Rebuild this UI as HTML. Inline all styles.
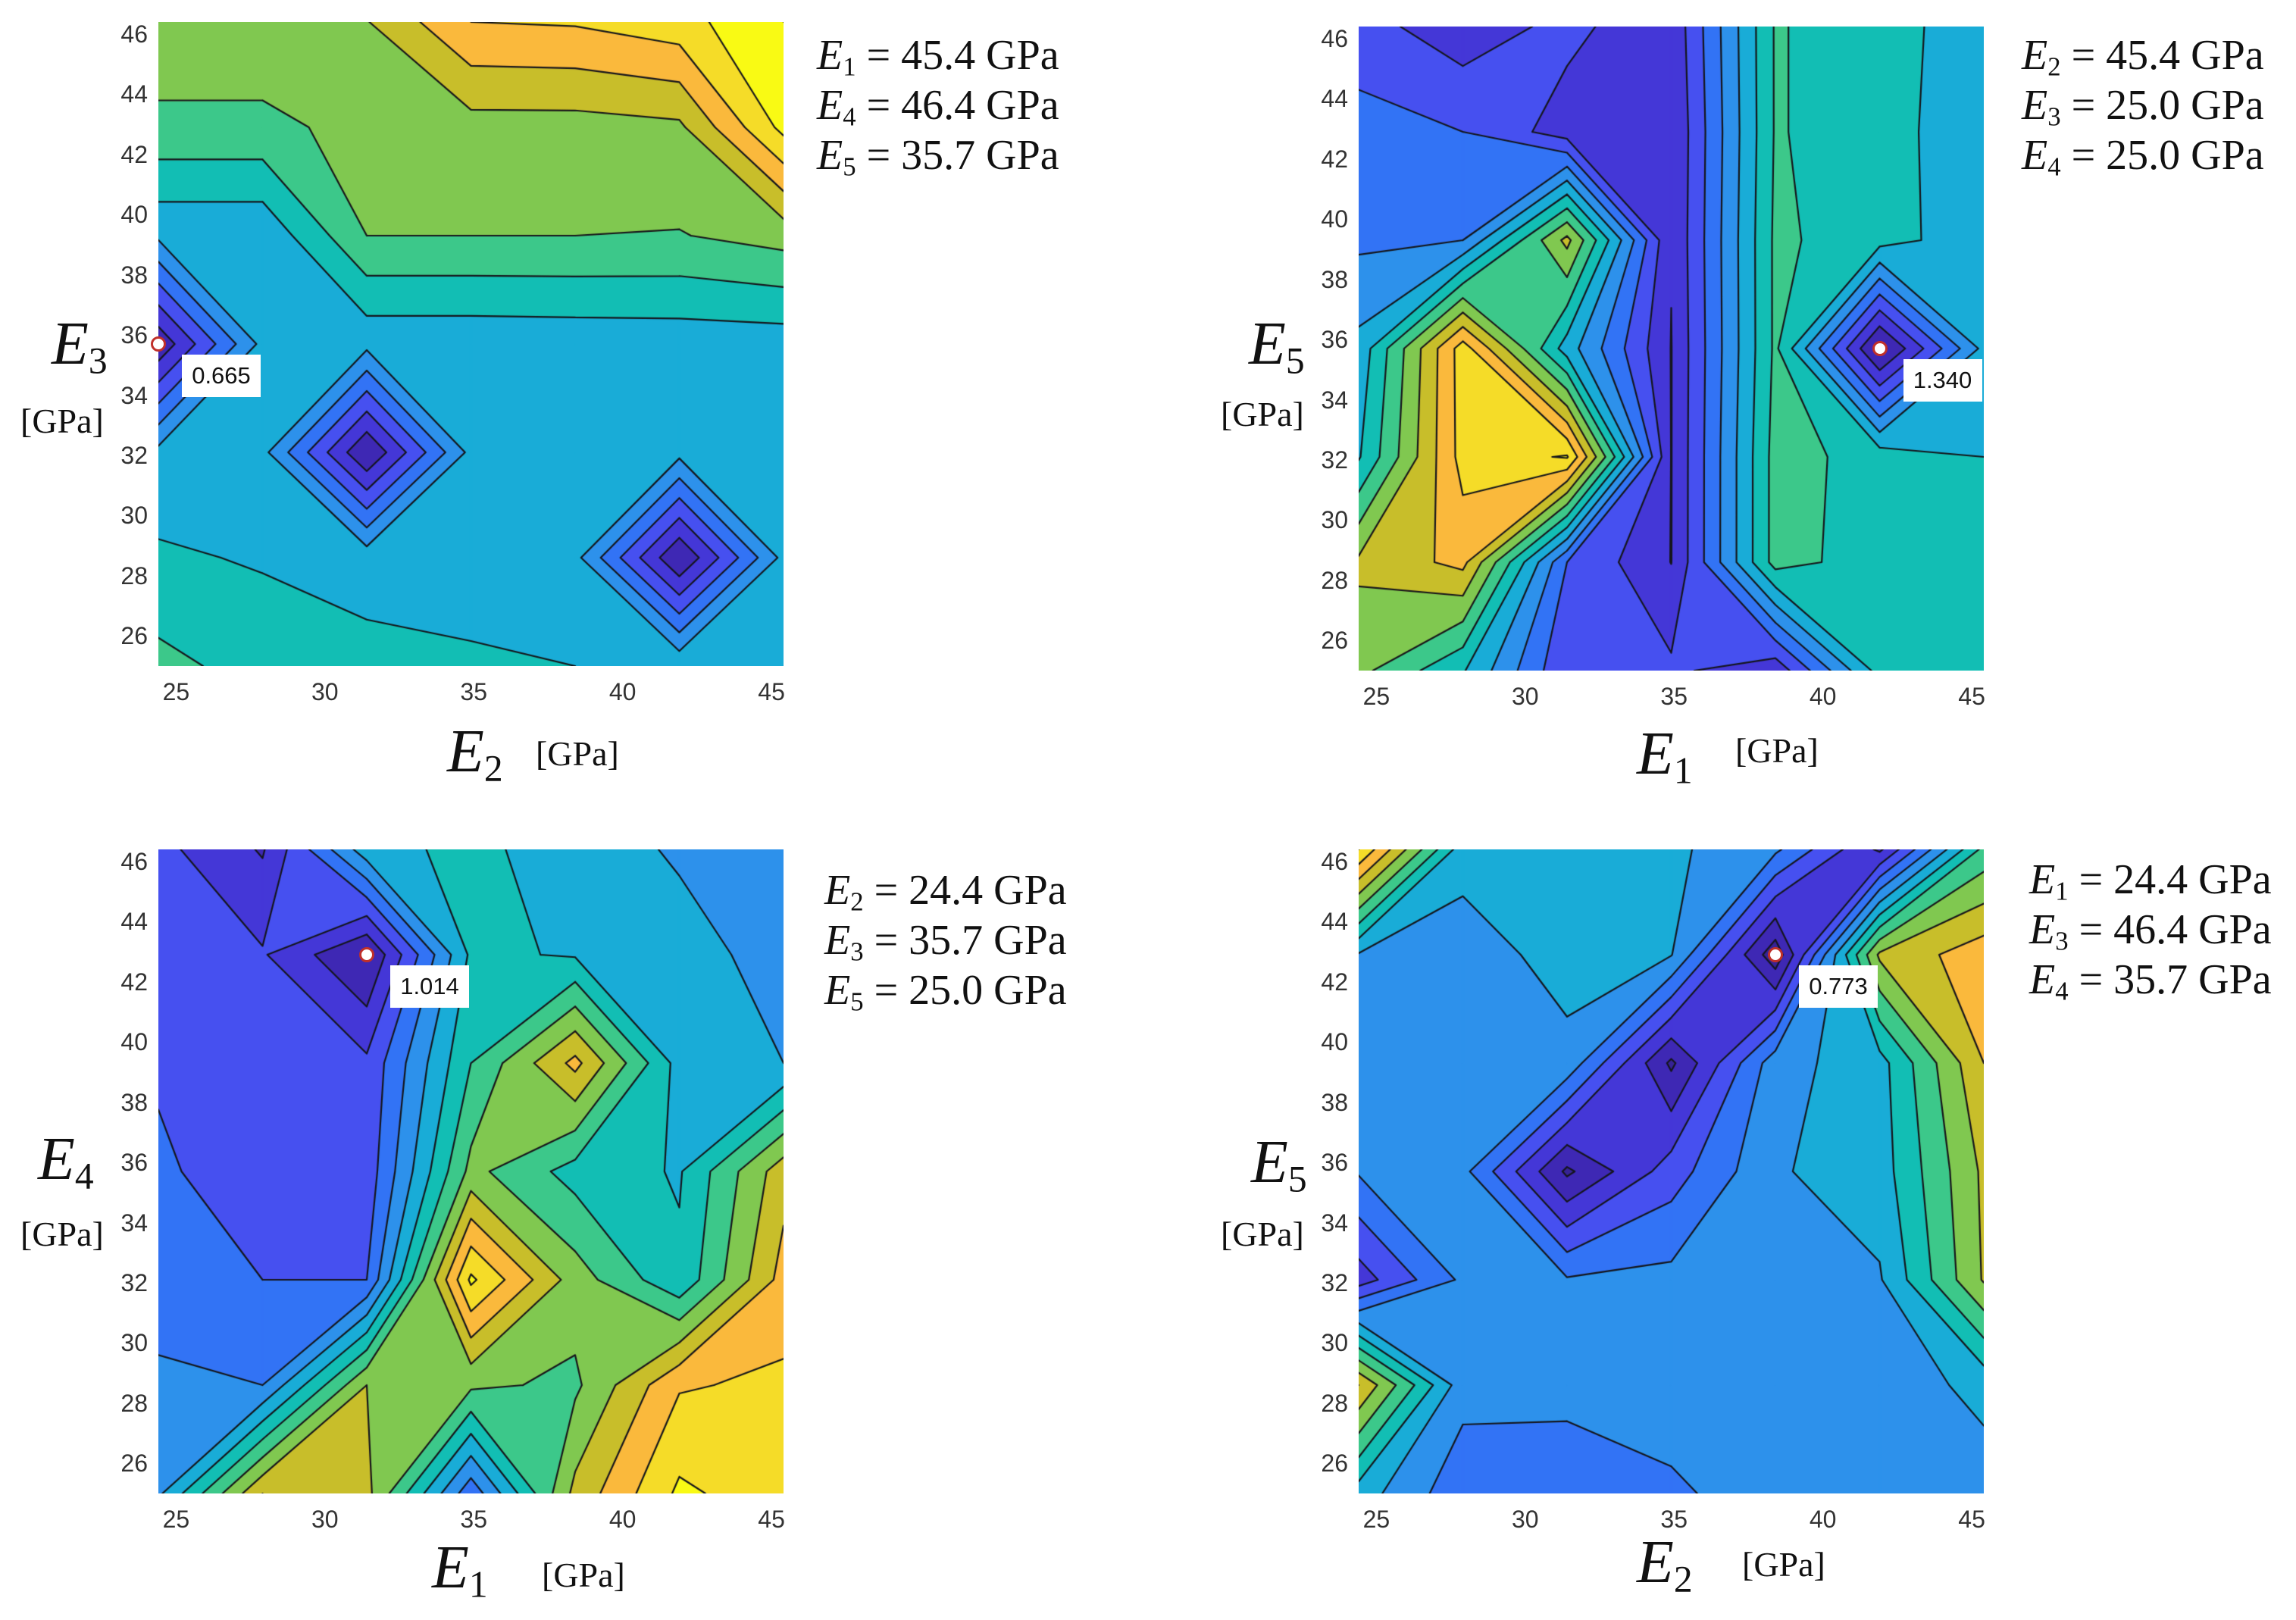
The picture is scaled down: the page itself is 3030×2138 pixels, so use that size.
<!DOCTYPE html>
<html><head><meta charset="utf-8">
<style>
html,body{margin:0;padding:0;background:#fff;}
#root{position:relative;width:3030px;height:2138px;overflow:hidden;font-family:"Liberation Sans",sans-serif;}
canvas{position:absolute;}
.tick{position:absolute;font-size:32px;color:#333;line-height:1;white-space:nowrap;}
.ytick{text-align:right;width:60px;}
.ser{position:absolute;font-family:"Liberation Serif",serif;color:#111;white-space:nowrap;line-height:1;}
.ser sub{font-size:0.62em;vertical-align:-0.25em;line-height:0;}
.ann div{height:66px;line-height:66px;}
.lbl{position:absolute;background:#fff;font-size:31px;color:#111;display:flex;align-items:center;justify-content:center;}
.mk{position:absolute;width:20px;height:20px;border-radius:50%;background:#fff;border:3px solid #c0302a;box-sizing:border-box;}
</style></head>
<body>
<div id="root"></div>
<script>
// grid coordinates (GPa)
const xGrid = [24.4, 27.9, 31.4, 34.9, 38.4, 41.9, 45.4];
const yGrid = [25.0, 28.6, 32.1, 35.7, 39.3, 42.9, 46.4];
const xTicks = [25, 30, 35, 40, 45];
const yTicks = [26, 28, 30, 32, 34, 36, 38, 40, 42, 44, 46];
// objective level values, rows from y=25 (bottom) to y=46.4 (top)
const zE2E3 = [
 [8.3, 7.6, 7.3, 7.15, 7.0, 6.8, 6.6],
 [7.15, 6.9, 6.6, 6.5, 6.3, 1.0, 6.3],
 [6.3, 6.3, 1.0, 6.3, 6.3, 6.3, 6.3],
 [1.2, 6.3, 6.3, 6.3, 6.35, 6.4, 6.45],
 [6.2, 6.2, 9.0, 9.0, 9.0, 8.95, 9.4],
 [8.76, 8.76, 9.3, 9.6, 9.6, 9.8, 13.3],
 [9.7, 9.7, 9.95, 12.0, 12.1, 12.6, 14]
];
const zE1E5 = [
 [9.3, 7.1, 3.1, 3.2, 2.3, 7.4, 7.2],
 [10.2, 11.3, 4.0, 1.98, 8.4, 7.5, 7.2],
 [6.9, 12.4, 13.1, 1.97, 8.4, 7.6, 7.0],
 [6.3, 12.5, 6.5, 1.97, 8.2, 0.6, 6.3],
 [4.8, 5.0, 10.3, 2.05, 8.2, 7.4, 6.4],
 [4.4, 4.0, 2.5, 2.0, 8.1, 7.3, 6.5],
 [3.4, 2.4, 3.3, 2.2, 8.1, 7.3, 6.6]
];
const zE1E4 = [
 [5.8, 11.0, 10.3, 4.3, 10.3, 13.2, 12.4],
 [5.2, 5.0, 10.0, 9.2, 8.8, 11.9, 12.2],
 [4.5, 4.0, 4.0, 13.2, 9.5, 7.2, 11.4],
 [4.2, 3.3, 3.4, 9.3, 7.6, 6.9, 10.6],
 [3.85, 3.3, 3.2, 8.0, 11.3, 6.6, 6.0],
 [3.3, 3.1, 0.9, 7.2, 6.9, 6.3, 5.7],
 [3.3, 1.9, 6.6, 7.3, 6.4, 5.9, 5.5]
];
const zE2E5 = [
 [6.5, 4.3, 4.4, 4.9, 5.3, 5.3, 5.5],
 [11.0, 5.4, 5.3, 5.3, 5.3, 5.4, 6.3],
 [2.5, 5.2, 5.1, 5.3, 5.5, 5.9, 10.1],
 [5.1, 5.3, 0.8, 3.5, 5.9, 6.5, 10.2],
 [5.5, 5.4, 5.7, 0.8, 5.6, 6.6, 11.0],
 [5.9, 5.5, 6.4, 6.05, 0.3, 10.2, 11.6],
 [13.0, 6.4, 6.3, 6.2, 5.2, 1.8, 8.3]
];
// optimum markers [x, y] and printed values
const optE2E3 = [24.4, 35.7]; const valE2E3 = "0.665";
const optE1E5 = [41.9, 35.7]; const valE1E5 = "1.340";
const optE1E4 = [31.4, 42.9]; const valE1E4 = "1.014";
const optE2E5 = [38.4, 42.9]; const valE2E5 = "0.773";

const palette = [[55,35,150],[62,40,180],[68,55,215],[70,80,240],[50,115,245],[45,145,235],
 [25,172,215],[18,190,180],[60,200,138],[128,200,80],[200,190,42],[250,185,60],[245,220,40],[249,250,20]];

const root = document.getElementById('root');
const X0 = xGrid[0], X1 = xGrid[xGrid.length-1], Y0 = yGrid[0], Y1 = yGrid[yGrid.length-1];
function col(k){ k = Math.max(0, Math.min(palette.length-1, k)); const c = palette[k]; return 'rgb('+c[0]+','+c[1]+','+c[2]+')'; }

function cellPolys(P, k, lowConnect){
  const hi = P.map(p => p[2] >= k);
  const cross = (a, b) => { const t = (k - a[2]) / (b[2] - a[2]); return [a[0]+t*(b[0]-a[0]), a[1]+t*(b[1]-a[1]), true]; };
  const saddle = hi[0] === hi[2] && hi[1] === hi[3] && hi[0] !== hi[1];
  const center = (P[0][2]+P[1][2]+P[2][2]+P[3][2]) / 4;
  if (saddle && (lowConnect || center < k)) {
    const polys = [];
    for (let n = 0; n < 4; n++) if (hi[n]) {
      const p = P[n], nx = P[(n+1)%4], pv = P[(n+3)%4];
      polys.push([cross(pv, p), [p[0],p[1],false], cross(p, nx)]);
    }
    return polys;
  }
  const poly = [];
  for (let n = 0; n < 4; n++) {
    const a = P[n], b = P[(n+1)%4];
    if (hi[n]) poly.push([a[0],a[1],false]);
    if (hi[n] !== hi[(n+1)%4]) poly.push(cross(a, b));
  }
  return poly.length >= 3 ? [poly] : [];
}

function makePlot(cfg){
  const L = cfg.left, T = cfg.top, W = 825, H = 850;
  const fx = v => (v - X0) / (X1 - X0) * W;
  const fy = v => (Y1 - v) / (Y1 - Y0) * H;
  const sx = v => L + fx(v), sy = v => T + fy(v);
  const cv = document.createElement('canvas');
  cv.width = W; cv.height = H;
  cv.style.left = L + 'px'; cv.style.top = T + 'px';
  
  
  root.appendChild(cv);
  const ctx = cv.getContext('2d');
  const z = cfg.z;
  const segs = [];
  const cells = [];
  for (let j = 0; j < yGrid.length-1; j++) for (let i = 0; i < xGrid.length-1; i++) {
    cells.push([[fx(xGrid[i]),fy(yGrid[j]),z[j][i]],[fx(xGrid[i+1]),fy(yGrid[j]),z[j][i+1]],
               [fx(xGrid[i+1]),fy(yGrid[j+1]),z[j+1][i+1]],[fx(xGrid[i]),fy(yGrid[j+1]),z[j+1][i]]]);
  }
  const all = z.flat();
  const gMin = Math.floor(Math.min(...all)), gMax = Math.floor(Math.max(...all));
  ctx.lineJoin = 'round';
  for (let k = gMin; k <= gMax; k++) {
    ctx.fillStyle = col(k); ctx.strokeStyle = col(k); ctx.lineWidth = 2;
    cells.forEach(P => {
      const vs = P.map(p=>p[2]);
      const mn = Math.min(...vs), mx = Math.max(...vs);
      let polys = [];
      if (mn >= k || k === gMin) polys = [P.map(p=>[p[0],p[1],false])];
      else if (mx >= k) {
        polys = cellPolys(P, k, k >= cfg.lowFrom);
        polys.forEach(poly => {
          for (let n = 0; n < poly.length; n++) {
            const a = poly[n], b = poly[(n+1)%poly.length];
            if (a[2] && b[2]) segs.push([a[0],a[1],b[0],b[1]]);
          }
        });
      }
      polys.forEach(poly => {
        ctx.beginPath(); poly.forEach((p,n)=> n? ctx.lineTo(p[0],p[1]) : ctx.moveTo(p[0],p[1])); ctx.closePath(); ctx.fill(); ctx.stroke();
      });
    });
  }
  ctx.strokeStyle = '#15151c'; ctx.lineWidth = 2.2; ctx.lineCap = 'round';
  ctx.beginPath();
  segs.forEach(s => { ctx.moveTo(s[0],s[1]); ctx.lineTo(s[2],s[3]); });
  ctx.stroke();

  xTicks.forEach(t => {
    const d = document.createElement('div');
    d.className = 'tick'; d.textContent = t;
    d.style.left = (sx(t) - 18) + 'px'; d.style.top = (T + H + 18) + 'px';
    
    
    root.appendChild(d);
  });
  yTicks.forEach(t => {
    const d = document.createElement('div');
    d.className = 'tick ytick'; d.textContent = t;
    d.style.left = (L - 74) + 'px'; d.style.top = (sy(t) - 16) + 'px';
    
    
    root.appendChild(d);
  });
  const m = document.createElement('div');
  m.className = 'mk';
  m.style.left = (sx(cfg.opt[0]) - 10) + 'px'; m.style.top = (sy(cfg.opt[1]) - 10) + 'px';
  
  
  root.appendChild(m);
  const b = document.createElement('div');
  b.className = 'lbl'; b.textContent = cfg.val;
  b.style.left = (sx(cfg.opt[0]) + 31) + 'px'; b.style.top = (sy(cfg.opt[1]) + 14) + 'px';
  b.style.width = '104px'; b.style.height = '56px';
  
  
  root.appendChild(b);
}

makePlot({name:'e2-e3', left:209, top:29, z:zE2E3, opt:optE2E3, val:valE2E3, lowFrom:99});
makePlot({name:'e1-e5', left:1793, top:35, z:zE1E5, opt:optE1E5, val:valE1E5, lowFrom:99});
makePlot({name:'e1-e4', left:209, top:1121, z:zE1E4, opt:optE1E4, val:valE1E4, lowFrom:99});
makePlot({name:'e2-e5', left:1793, top:1121, z:zE2E5, opt:optE2E5, val:valE2E5, lowFrom:3});
</script>

<!-- axis titles -->
<div class="ser" style="left:590px;top:952px;font-size:80px;font-style:italic">E<sub style="font-style:normal">2</sub></div>
<div class="ser" style="left:707px;top:972px;font-size:46px">[GPa]</div>
<div class="ser" style="left:68px;top:414px;font-size:80px;font-style:italic">E<sub style="font-style:normal">3</sub></div>
<div class="ser" style="left:27px;top:533px;font-size:46px">[GPa]</div>

<div class="ser" style="left:2160px;top:955px;font-size:80px;font-style:italic">E<sub style="font-style:normal">1</sub></div>
<div class="ser" style="left:2290px;top:968px;font-size:46px">[GPa]</div>
<div class="ser" style="left:1648px;top:414px;font-size:80px;font-style:italic">E<sub style="font-style:normal">5</sub></div>
<div class="ser" style="left:1611px;top:524px;font-size:46px">[GPa]</div>

<div class="ser" style="left:570px;top:2029px;font-size:80px;font-style:italic">E<sub style="font-style:normal">1</sub></div>
<div class="ser" style="left:715px;top:2056px;font-size:46px">[GPa]</div>
<div class="ser" style="left:50px;top:1490px;font-size:80px;font-style:italic">E<sub style="font-style:normal">4</sub></div>
<div class="ser" style="left:27px;top:1606px;font-size:46px">[GPa]</div>

<div class="ser" style="left:2160px;top:2022px;font-size:80px;font-style:italic">E<sub style="font-style:normal">2</sub></div>
<div class="ser" style="left:2299px;top:2042px;font-size:46px">[GPa]</div>
<div class="ser" style="left:1651px;top:1494px;font-size:80px;font-style:italic">E<sub style="font-style:normal">5</sub></div>
<div class="ser" style="left:1611px;top:1606px;font-size:46px">[GPa]</div>

<!-- fixed parameter annotations -->
<div class="ser ann" style="left:1078px;top:40px;font-size:56px"><div><i>E</i><sub>1</sub> = 45.4 GPa</div><div><i>E</i><sub>4</sub> = 46.4 GPa</div><div><i>E</i><sub>5</sub> = 35.7 GPa</div></div>
<div class="ser ann" style="left:2668px;top:40px;font-size:56px"><div><i>E</i><sub>2</sub> = 45.4 GPa</div><div><i>E</i><sub>3</sub> = 25.0 GPa</div><div><i>E</i><sub>4</sub> = 25.0 GPa</div></div>
<div class="ser ann" style="left:1088px;top:1142px;font-size:56px"><div><i>E</i><sub>2</sub> = 24.4 GPa</div><div><i>E</i><sub>3</sub> = 35.7 GPa</div><div><i>E</i><sub>5</sub> = 25.0 GPa</div></div>
<div class="ser ann" style="left:2678px;top:1128px;font-size:56px"><div><i>E</i><sub>1</sub> = 24.4 GPa</div><div><i>E</i><sub>3</sub> = 46.4 GPa</div><div><i>E</i><sub>4</sub> = 35.7 GPa</div></div>
</body></html>
